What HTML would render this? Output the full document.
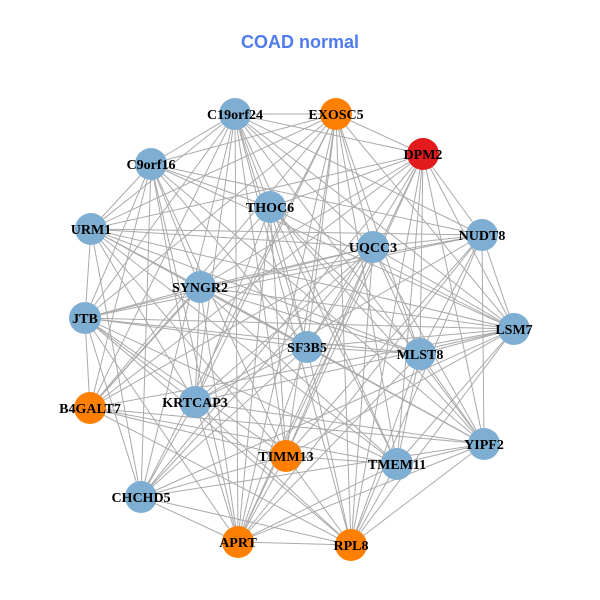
<!DOCTYPE html>
<html><head><meta charset="utf-8"><style>
html,body{margin:0;padding:0;background:#fff;width:600px;height:600px;overflow:hidden}
</style></head><body>
<svg id="s" width="600" height="600" xmlns="http://www.w3.org/2000/svg">
<rect width="600" height="600" fill="#fff"/>
<text x="300" y="48" text-anchor="middle" font-family="Liberation Sans, sans-serif" font-weight="bold" font-size="18" fill="#4F7BEF">COAD normal</text>
<g id="e" stroke="#aaaaaa" stroke-width="1"></g>
<g id="n"></g>
</svg>
<script>
var N=[["C19orf24",235,114,"b"],["EXOSC5",336,114,"o"],["DPM2",423,154,"r"],["C9orf16",151,164,"b"],["THOC6",270,207,"b"],["NUDT8",482,235,"b"],["URM1",91,229,"b"],["UQCC3",373,247,"b"],["SYNGR2",200,287,"b"],["JTB",85,318,"b"],["LSM7",514,329,"b"],["SF3B5",307,347,"b"],["MLST8",420,354,"b"],["B4GALT7",90,408,"o"],["KRTCAP3",195,402,"b"],["YIPF2",484,444,"b"],["TIMM13",286,456,"o"],["TMEM11",397,464,"b"],["CHCHD5",141,497,"b"],["APRT",238,542,"o"],["RPL8",351,545,"o"]];
var C={b:"#7FAED3",o:"#FF7F00",r:"#E31A1C"};
var ns="http://www.w3.org/2000/svg",E=document.getElementById("e"),G=document.getElementById("n");
var seed=7;function rnd(){seed=(seed*9301+49297)%233280;return seed/233280;}
for(var i=0;i<N.length;i++)for(var j=i+1;j<N.length;j++){if(rnd()<0.72){var l=document.createElementNS(ns,"line");l.setAttribute("x1",N[i][1]);l.setAttribute("y1",N[i][2]);l.setAttribute("x2",N[j][1]);l.setAttribute("y2",N[j][2]);E.appendChild(l);}}
N.forEach(function(d){var c=document.createElementNS(ns,"circle");c.setAttribute("cx",d[1]);c.setAttribute("cy",d[2]);c.setAttribute("r",16);c.setAttribute("fill",C[d[3]]);G.appendChild(c);});
N.forEach(function(d){var t=document.createElementNS(ns,"text");t.setAttribute("x",d[1]);t.setAttribute("y",d[2]+5);t.setAttribute("text-anchor","middle");t.setAttribute("font-family","Liberation Serif, serif");t.setAttribute("font-weight","bold");t.setAttribute("font-size","14");t.textContent=d[0];G.appendChild(t);});
</script>
</body></html>
